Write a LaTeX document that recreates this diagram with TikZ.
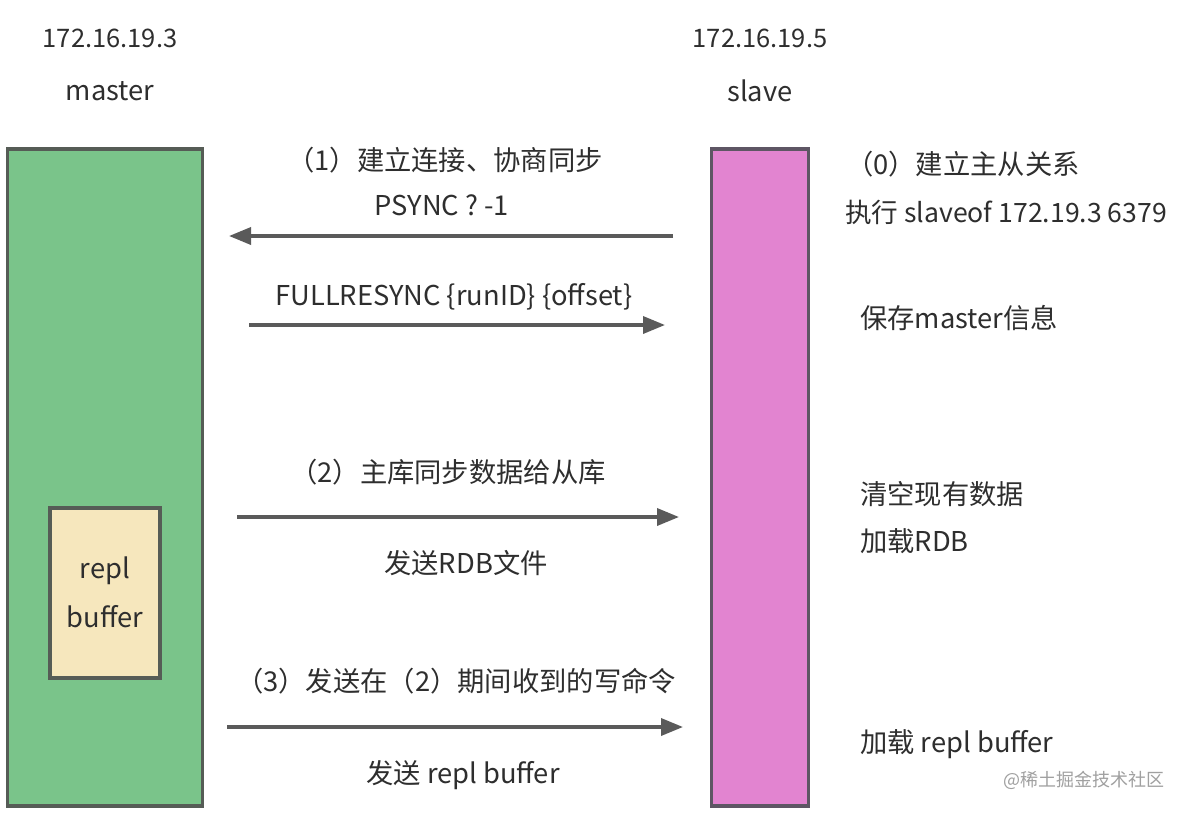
\documentclass[tikz,border=0pt]{standalone}
\usepackage{fontspec}
\setmainfont{Noto Sans CJK SC}
\usetikzlibrary{arrows.meta}
\definecolor{txt}{HTML}{2E2E2E}
\definecolor{mfill}{HTML}{7AC48A}
\definecolor{mdraw}{HTML}{565C56}
\definecolor{sfill}{HTML}{E284D0}
\definecolor{sdraw}{HTML}{5E5664}
\definecolor{bfill}{HTML}{F6E7BD}
\definecolor{adraw}{HTML}{5A5A5A}
\definecolor{wm}{HTML}{A0A0A0}
\tikzset{
  lbl/.style={text=txt, inner sep=0pt, font=\fontsize{27.3}{31}\selectfont},
  iplbl/.style={lbl, font=\fontsize{25.5}{30}\selectfont},
  rlbl/.style={lbl, anchor=west},
  arr/.style={draw=adraw, line width=3.5pt, -{Triangle[length=22pt,width=17pt]}},
  boxm/.style={draw=mdraw, fill=mfill, line width=3.5pt, inner sep=0pt},
  boxs/.style={draw=sdraw, fill=sfill, line width=3.5pt, inner sep=0pt},
  boxb/.style={draw=mdraw, fill=bfill, line width=3.5pt, inner sep=0pt, align=center},
}
\begin{document}
\begin{tikzpicture}[x=1pt,y=-1pt]
\useasboundingbox (0,0) rectangle (1186,812);
\fill[white] (0,0) rectangle (1186,812);
% boxes
\node[boxm, minimum width=195pt, minimum height=657pt] (m) at (105,477.5) {};
\node[boxs, minimum width=97pt, minimum height=657pt] (s) at (760,477.5) {};
\node[boxb, minimum width=110pt, minimum height=170pt] (rb) at (105,593) {};
\node[lbl] (rbt1) at (105,571) {repl};
\node[lbl] (rbt2) at (105,617) {buffer};
% headers
\node[iplbl] (mip) at (110,38) {172.16.19.3};
\node[lbl] (mname) at (110,91) {master};
\node[iplbl] (sip) at (760,38) {172.16.19.5};
\node[lbl] (sname) at (760,91) {slave};
% arrows
\coordinate (a1s) at (673,236); \coordinate (a1e) at (229,236);
\coordinate (a2s) at (249,325); \coordinate (a2e) at (665,325);
\coordinate (a3s) at (237,517); \coordinate (a3e) at (679,517);
\coordinate (a4s) at (227,727); \coordinate (a4e) at (683,727);
\draw[arr] (a1s) -- (a1e);
\draw[arr] (a2s) -- (a2e);
\draw[arr] (a3s) -- (a3e);
\draw[arr] (a4s) -- (a4e);
% arrow labels
\node[lbl] (l1) at (445,160) {（1）建立连接、协商同步};
\node[lbl] (l1b) at (442,205) {PSYNC ? -1};
\node[lbl] (l2) at (454,297) {FULLRESYNC \{runID\} \{offset\}};
\node[lbl] (l3) at (448,472) {（2）主库同步数据给从库};
\node[lbl] (l3b) at (466,563) {发送RDB文件};
\node[lbl] (l4) at (456,681) {（3）发送在（2）期间收到的写命令};
\node[lbl] (l4b) at (463,775) {发送 repl buffer};
% slave side labels
\node[rlbl] (r0) at (846,164) {（0）建立主从关系};
\node[rlbl, font=\fontsize{26.6}{31}\selectfont] (r0b) at (845,212) {执行 slaveof 172.19.3 6379};
\node[rlbl] (r1) at (860,318) {保存master信息};
\node[rlbl] (r2) at (860,494) {清空现有数据};
\node[rlbl] (r2b) at (860,541) {加载RDB};
\node[rlbl] (r3) at (860,744) {加载 repl buffer};
% watermark
\node[anchor=west, inner sep=0pt, text=wm, font=\fontsize{18}{20}\selectfont] (wmk) at (1003,780) {@稀土掘金技术社区};
\end{tikzpicture}
\end{document}
